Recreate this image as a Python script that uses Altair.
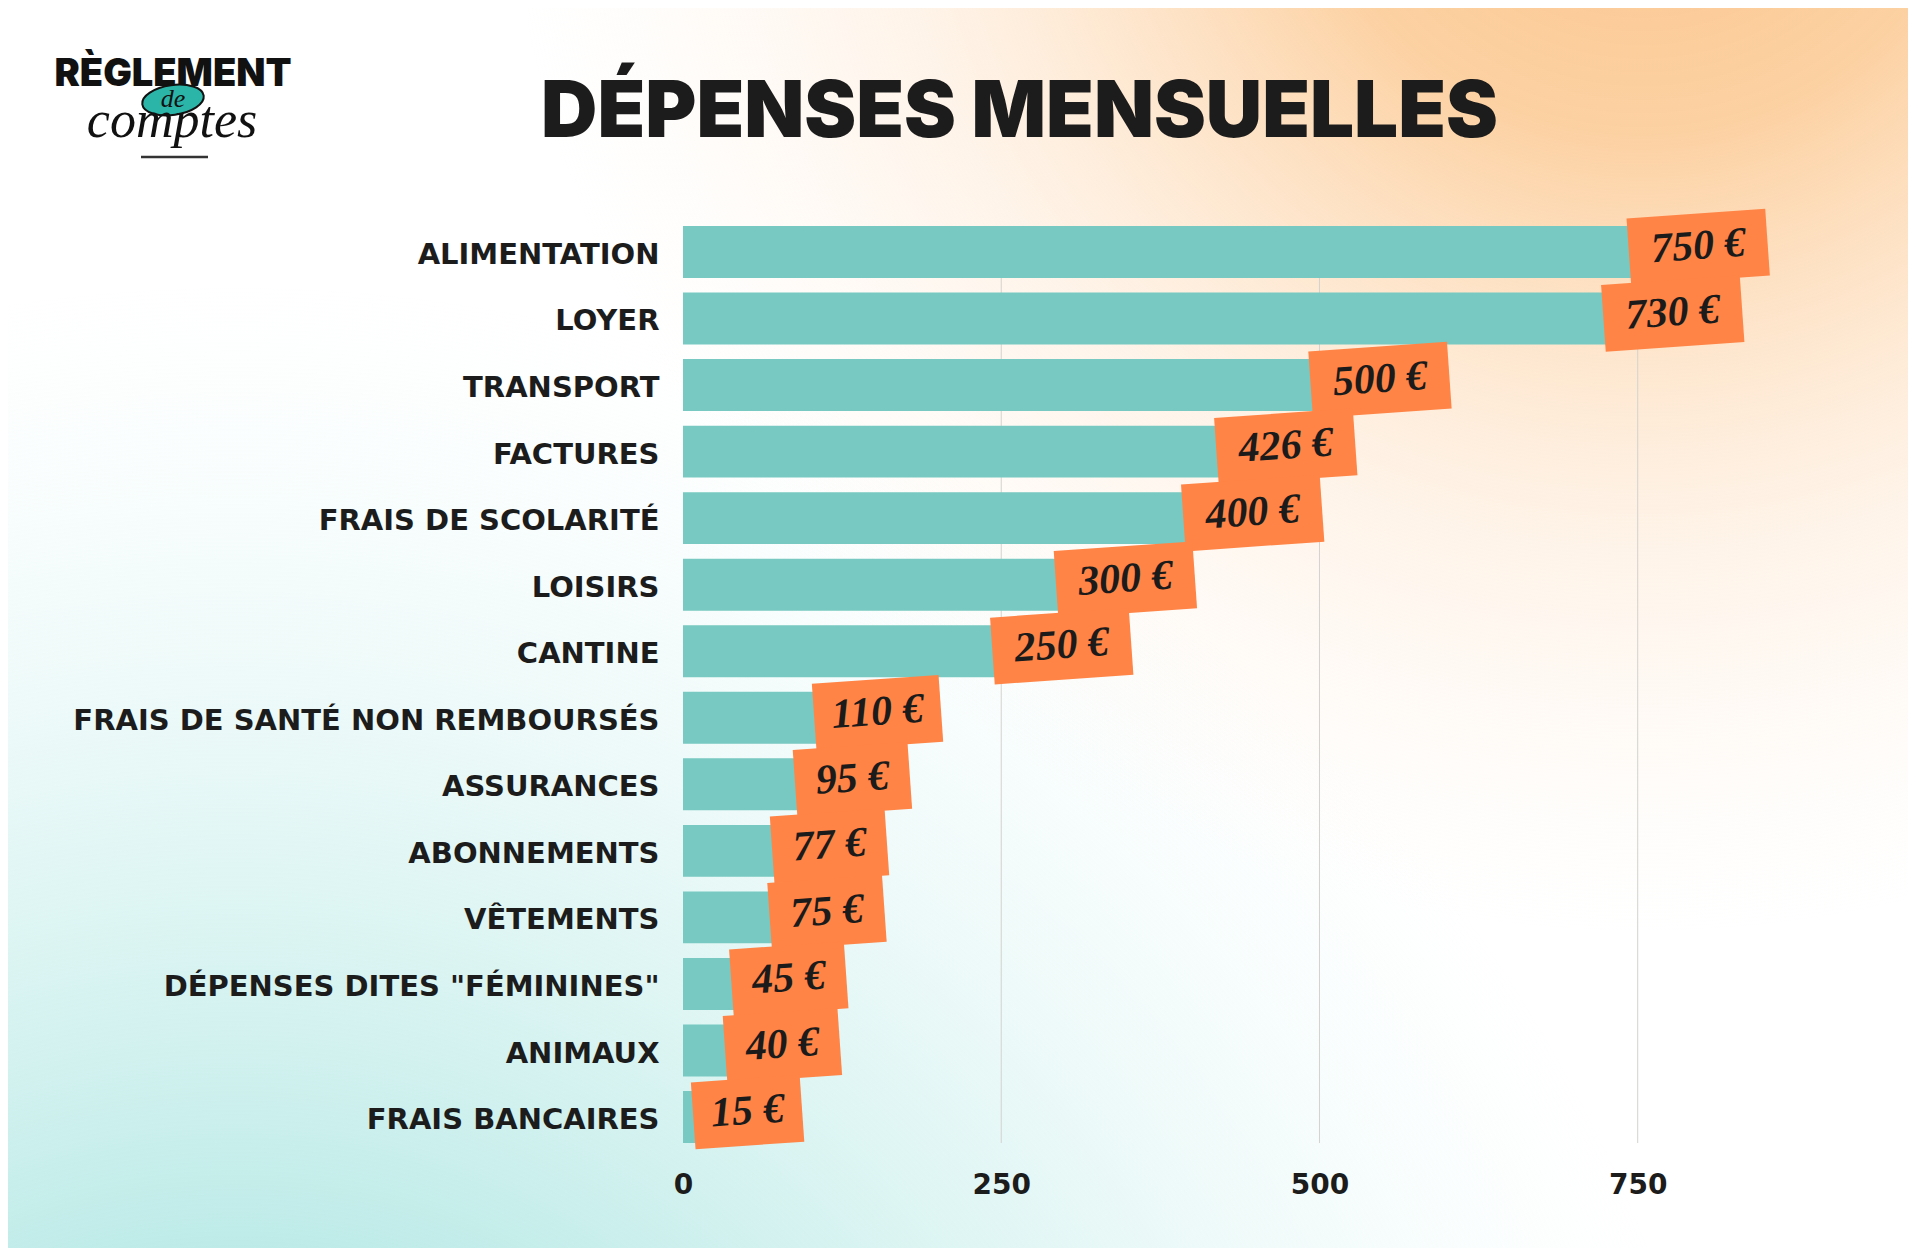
import altair as alt
import pandas as pd

# ---------------- data ----------------
categories = [
    "ALIMENTATION",
    "LOYER",
    "TRANSPORT",
    "FACTURES",
    "FRAIS DE SCOLARITÉ",
    "LOISIRS",
    "CANTINE",
    "FRAIS DE SANTÉ NON REMBOURSÉS",
    "ASSURANCES",
    "ABONNEMENTS",
    "VÊTEMENTS",
    'DÉPENSES DITES "FÉMININES"',
    "ANIMAUX",
    "FRAIS BANCAIRES\u00a0",
]
values = [750, 730, 500, 426, 400, 300, 250, 110, 95, 77, 75, 45, 40, 15]
tick_values = [0, 250, 500, 750]
grid_values = [250, 500, 750]
title_text = "DÉPENSES MENSUELLES"
logo_top = "RÈGLEMENT"
logo_mid = "de"
logo_bottom = "comptes"

# ---------------- layout ----------------
PLOT_W = 1082
PLOT_H = 917
X_MAX = 850
PXU = PLOT_W / X_MAX
LEFT = 675
TOP = 218
TOTAL_W = 1900
TOTAL_H = 1240
TAG_H = 67
LABEL_FONT = "DejaVu Sans"

tag_w = [67 + sum(18 if c == "1" else 24 for c in str(v)) for v in values]
df = pd.DataFrame({"cat": categories, "value": values,
                   "label": [f"{v} €" for v in values], "w": tag_w})
df["size"] = df["w"] ** 2
df["path"] = [
    "M -1 {a:.4f} L 1 {a:.4f} L 1 {b:.4f} L -1 {b:.4f} Z".format(a=-TAG_H / w, b=TAG_H / w)
    for w in tag_w
]
df["tag_x"] = df["value"] + (df["w"] / 2 - 9) / PXU

one = pd.DataFrame({"k": [0]})
full_box = dict(x=alt.value(-LEFT), x2=alt.value(TOTAL_W - LEFT),
                y=alt.value(-TOP), y2=alt.value(TOTAL_H - TOP))

bg_white = alt.Chart(one).mark_rect(fill="#ffffff", strokeWidth=0).encode(**full_box)

teal = alt.Chart(one).mark_rect(
    strokeWidth=0,
    fill=alt.RadialGradient(
        gradient="radial", x1=0.12, y1=1.12, r1=0, x2=0.12, y2=1.12, r2=0.8,
        stops=[
            alt.GradientStop(offset=0, color="#a6e3df"),
            alt.GradientStop(offset=0.3, color="rgba(174,230,226,0.95)"),
            alt.GradientStop(offset=0.65, color="rgba(200,239,236,0.5)"),
            alt.GradientStop(offset=1, color="rgba(230,248,247,0)"),
        ],
    ),
).encode(**full_box)

orange = alt.Chart(one).mark_rect(
    strokeWidth=0,
    fill=alt.RadialGradient(
        gradient="radial", x1=0.86, y1=0.06, r1=0, x2=0.86, y2=0.06, r2=0.6,
        stops=[
            alt.GradientStop(offset=0, color="#fbc48a"),
            alt.GradientStop(offset=0.3, color="rgba(252,204,152,0.9)"),
            alt.GradientStop(offset=0.65, color="rgba(254,228,202,0.45)"),
            alt.GradientStop(offset=1, color="rgba(255,242,230,0)"),
        ],
    ),
).encode(**full_box)

x_scale = alt.Scale(domain=[0, X_MAX], nice=False, zero=True)
x_axis = alt.Axis(
    values=tick_values, title=None, grid=False, domain=False, ticks=False,
    tickSize=0, labelFont=LABEL_FONT, labelFontWeight="bold", labelFontSize=28,
    labelColor="#1c1c1c", labelPadding=28, labelFlush=False, zindex=1,
)

grid = alt.Chart(pd.DataFrame({"value": grid_values})).mark_rule(
    color="#d4d2ce", strokeWidth=1
).encode(
    x=alt.X("value:Q", scale=x_scale, axis=x_axis),
    y=alt.value(0),
    y2=alt.value(PLOT_H),
)

y_enc = alt.Y(
    "cat:N",
    sort=categories,
    scale=alt.Scale(paddingInner=0.22, paddingOuter=0),
    axis=alt.Axis(
        title=None, domain=False, ticks=False, tickSize=0, grid=False,
        labelFont=LABEL_FONT, labelFontWeight="bold", labelFontSize=29,
        labelColor="#1c1c1c", labelPadding=24, labelLimit=1000, labelOffset=3,
        zindex=1,
    ),
)

bars = alt.Chart(df).mark_bar(color="#77c9c1").encode(
    x=alt.X("value:Q", scale=x_scale, axis=x_axis),
    y=y_enc,
)

tags = alt.Chart(df).mark_point(
    filled=True, fill="#ff8446", opacity=1, angle=356, yOffset=-5, strokeWidth=0
).encode(
    x=alt.X("tag_x:Q"),
    y=alt.Y("cat:N", sort=categories),
    shape=alt.Shape("path:N", scale=None),
    size=alt.Size("size:Q", scale=None),
)

tag_text = alt.Chart(df).mark_text(
    font="Liberation Serif", fontStyle="italic", fontWeight="bold", fontSize=42,
    color="#1b1b1b", angle=356, yOffset=-6, align="center", baseline="middle",
).encode(
    x=alt.X("tag_x:Q"),
    y=alt.Y("cat:N", sort=categories),
    text="label:N",
)

title = alt.Chart(one).mark_text(
    text=title_text, font="Inter", fontWeight=900, fontSize=78,
    color="#1c1c1c", align="center", baseline="alphabetic",
).encode(x=alt.value(1019.5 - 683), y=alt.value(137 - 226))

logo1 = alt.Chart(one).mark_text(
    text=logo_top, font="Inter", fontWeight=900, fontSize=38,
    color="#111111", align="center", baseline="alphabetic",
).encode(x=alt.value(173 - 683), y=alt.value(86 - 226))

ellipse_path = "M -1 0 A 1 0.48 0 1 1 1 0 A 1 0.48 0 1 1 -1 0 Z"
logo_ellipse = alt.Chart(one).mark_point(
    shape=ellipse_path, size=62 ** 2, filled=True, fill="#2bb5a9",
    stroke="#111111", strokeWidth=2, opacity=1, angle=352,
).encode(x=alt.value(173 - 683), y=alt.value(100 - 226))

logo2 = alt.Chart(one).mark_text(
    text=logo_mid, font="Liberation Serif", fontStyle="italic", fontSize=26,
    color="#111111", align="center", baseline="middle",
).encode(x=alt.value(173 - 683), y=alt.value(99 - 226))

logo3 = alt.Chart(one).mark_text(
    text=logo_bottom, font="Liberation Serif", fontStyle="italic", fontSize=52,
    color="#111111", align="center", baseline="alphabetic",
).encode(x=alt.value(172 - 683), y=alt.value(137 - 226))

logo_line = alt.Chart(one).mark_rule(color="#333333", strokeWidth=2.5).encode(
    x=alt.value(141 - 683), x2=alt.value(208 - 683), y=alt.value(157 - 226)
)

chart = alt.layer(
    bg_white, teal, orange, grid, bars, tags, tag_text,
    title, logo1, logo_ellipse, logo2, logo3, logo_line,
).properties(
    width=PLOT_W, height=PLOT_H, padding=0, background="#ffffff"
).configure_view(stroke=None)

chart.save("out.html", embed_options={"renderer": "svg", "actions": False})
